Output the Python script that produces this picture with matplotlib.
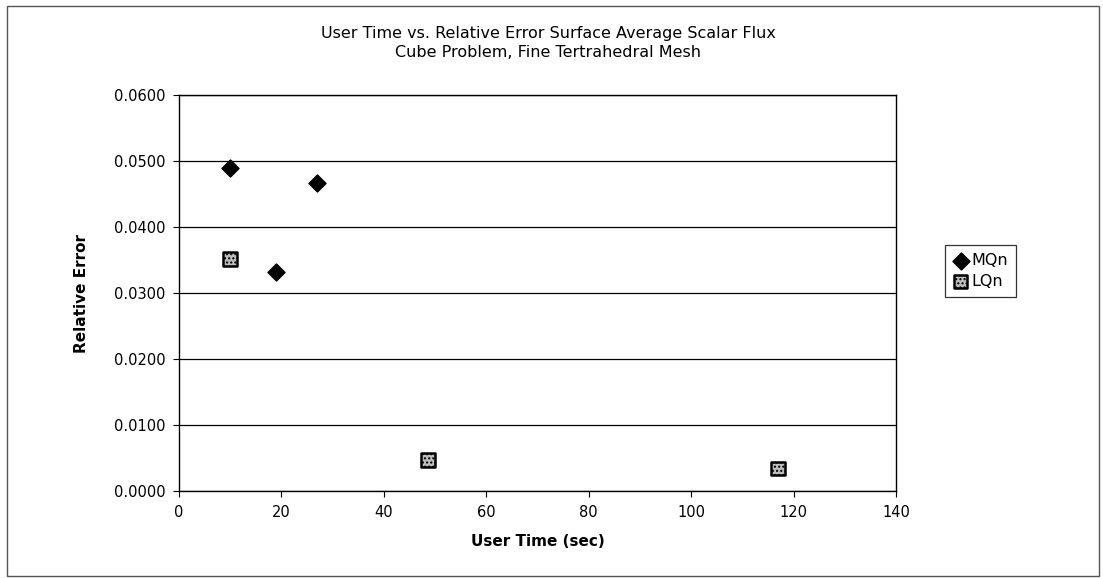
import matplotlib
matplotlib.use("Agg")
import matplotlib.pyplot as plt
from matplotlib.patches import Rectangle

plt.rcParams["font.family"] = ["DejaVu Sans"]

# values
mqn_time = [10.0, 27.0, 18.9]
mqn_err = [0.0490, 0.0467, 0.0332]
lqn_time = [10.0, 48.6, 117.0]
lqn_err = [0.0352, 0.0047, 0.0034]

x_ticks = [0, 20, 40, 60, 80, 100, 120, 140]
y_ticks = [0.0, 0.01, 0.02, 0.03, 0.04, 0.05, 0.06]

fig = plt.figure(figsize=(11.03, 5.78), dpi=100)
ax = fig.add_axes([0.1623, 0.1505, 0.65, 0.685])

ax.scatter(mqn_time, mqn_err, marker="D", s=75, color="black", zorder=3, label="MQn")
ax.scatter(lqn_time, lqn_err, marker="s", s=95, facecolor="#bdbdbd", edgecolor="black",
           linewidth=1.8, hatch="....", zorder=3, label="LQn")

ax.set_xlim(0, 140)
ax.set_ylim(0, 0.06)
ax.set_xticks(x_ticks)
ax.set_yticks(y_ticks)
ax.set_yticklabels([f"{v:.4f}" for v in y_ticks])
ax.tick_params(labelsize=10.5, direction="out", length=4, width=0.8, pad=6)
ax.yaxis.grid(True, color="black", linewidth=0.9)
ax.set_axisbelow(True)
for s in ax.spines.values():
    s.set_color("black")
    s.set_linewidth(1.0)

ax.set_xlabel("User Time (sec)", fontsize=11, fontweight="bold", labelpad=10)
ax.set_ylabel("Relative Error", fontsize=11, fontweight="bold", labelpad=18)

fig.text(0.497, 0.926, "User Time vs. Relative Error Surface Average Scalar Flux\nCube Problem, Fine Tertrahedral Mesh",
         ha="center", va="center", fontsize=11.5, linespacing=1.3)

leg = ax.legend(loc="center left", bbox_to_anchor=(1.068, 0.556), frameon=True, fancybox=False,
                fontsize=11.5, handletextpad=0.15, handlelength=1.0, borderpad=0.5,
                labelspacing=0.35, borderaxespad=0)
leg.get_frame().set_edgecolor("black")
leg.get_frame().set_linewidth(0.9)

fig.patches.append(Rectangle((0.006, 0.004), 0.99, 0.986, transform=fig.transFigure,
                             fill=False, edgecolor="#555555", linewidth=1.0))

fig.savefig("out.png", dpi=100)
